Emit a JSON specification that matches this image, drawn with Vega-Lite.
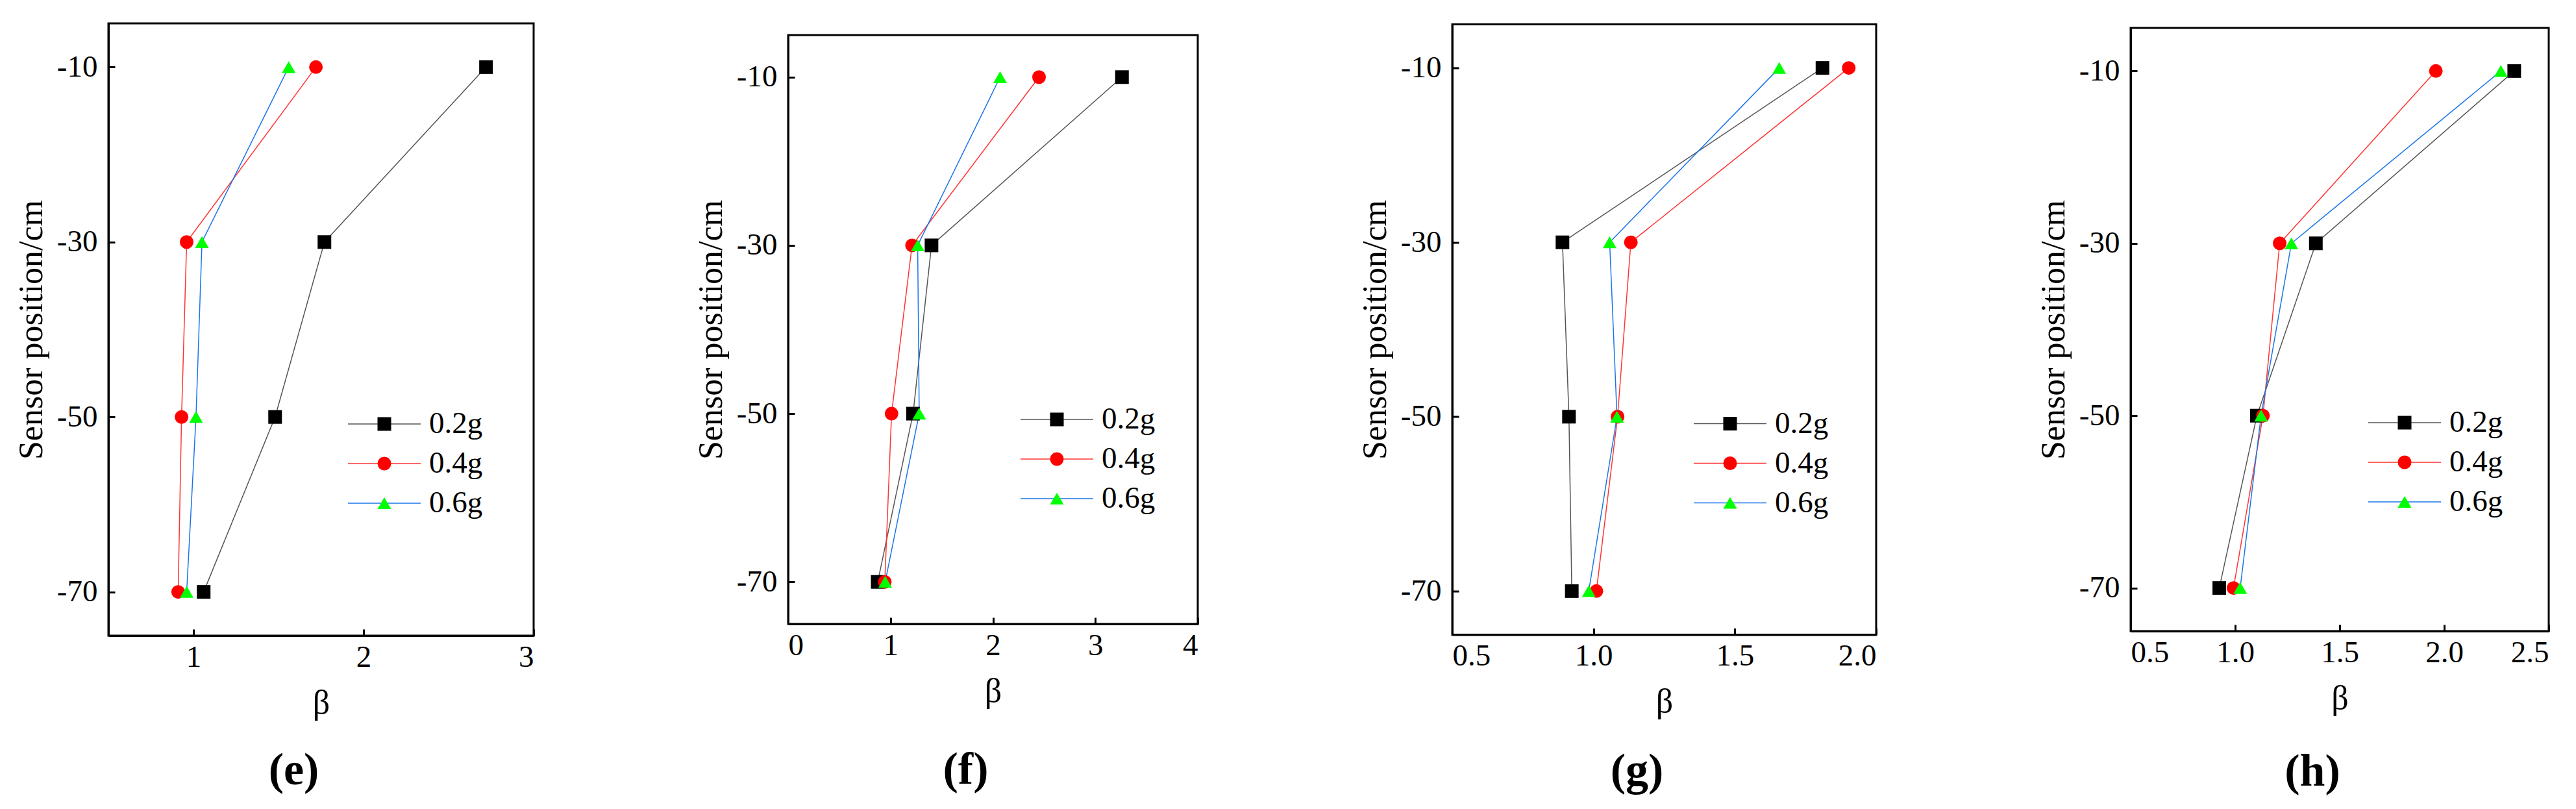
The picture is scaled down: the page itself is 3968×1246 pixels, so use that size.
{
  "$schema": "https://vega.github.io/schema/vega-lite/v6.json",
  "background": "white",
  "padding": {"left": 20, "top": 34, "right": 10, "bottom": 5},
  "bounds": "flush",
  "center": true,
  "spacing": 392,
  "config": {
    "font": "Liberation Serif",
    "view": {"stroke": "black", "strokeWidth": 3},
    "axis": {
      "grid": false,
      "domainColor": "black",
      "domainWidth": 3,
      "tickColor": "black",
      "tickWidth": 3,
      "tickSize": -10,
      "labelFont": "Liberation Serif",
      "labelFontSize": 47,
      "labelColor": "black",
      "titleFont": "Liberation Serif",
      "titleFontSize": 52,
      "titleFontWeight": "normal",
      "titleColor": "black"
    },
    "axisX": {"labelPadding": 20, "titlePadding": 22},
    "axisY": {"labelPadding": 27, "titlePadding": 12},
    "legend": {
      "orient": "none",
      "title": null,
      "padding": 0,
      "labelFont": "Liberation Serif",
      "labelFontSize": 47,
      "labelColor": "black",
      "clipHeight": 47,
      "rowPadding": 13
    },
    "title": {
      "orient": "bottom",
      "font": "Liberation Serif",
      "fontSize": 70,
      "fontWeight": "bold",
      "color": "black",
      "dx": -42
    }
  },
  "resolve": {
    "scale": {"stroke": "independent", "fill": "independent", "shape": "independent"},
    "legend": {"stroke": "independent", "fill": "independent", "shape": "independent"}
  },
  "hconcat": [
    {
      "width": 655,
      "height": 943,
      "title": {"text": "(e)", "offset": 45},
      "data": {"values": [
        {"load": "0.2g", "pos": -10, "beta": 2.72},
        {"load": "0.2g", "pos": -30, "beta": 1.77},
        {"load": "0.2g", "pos": -50, "beta": 1.48},
        {"load": "0.2g", "pos": -70, "beta": 1.06},
        {"load": "0.4g", "pos": -10, "beta": 1.72},
        {"load": "0.4g", "pos": -30, "beta": 0.96},
        {"load": "0.4g", "pos": -50, "beta": 0.93},
        {"load": "0.4g", "pos": -70, "beta": 0.91},
        {"load": "0.6g", "pos": -10, "beta": 1.56},
        {"load": "0.6g", "pos": -30, "beta": 1.05},
        {"load": "0.6g", "pos": -50, "beta": 1.015},
        {"load": "0.6g", "pos": -70, "beta": 0.96}
      ]},
      "encoding": {
        "x": {"field": "beta", "type": "quantitative", "title": "β",
              "scale": {"domain": [0.5, 3], "nice": false, "zero": false},
              "axis": {"values": [1, 2, 3], "format": "d"}},
        "y": {"field": "pos", "type": "quantitative", "title": "Sensor position/cm",
              "scale": {"domain": [-75, -5], "nice": false, "zero": false},
              "axis": {"values": [-10, -30, -50, -70], "labelExpr": "'' + datum.value"}}
      },
      "layer": [
        {
          "mark": {"type": "line", "strokeWidth": 1.5},
          "encoding": {
            "order": {"field": "pos", "type": "quantitative"},
            "stroke": {"field": "load", "type": "nominal",
                       "scale": {"domain": ["0.2g", "0.4g", "0.6g"], "range": ["#555555", "#ff3333", "#1a75e8"]},
                       "legend": {"legendX": 368, "legendY": 593.5, "symbolType": "stroke", "symbolSize": 12544, "symbolStrokeWidth": 1.5, "labelOffset": 12, "zindex": 1}}
          }
        },
        {
          "mark": {"type": "point", "filled": true, "opacity": 1, "size": 441},
          "encoding": {
            "fill": {"field": "load", "type": "nominal",
                     "scale": {"range": ["#000000", "#ff0000", "#00ff00"]},
                     "legend": {"legendX": 401.5, "legendY": 593.5, "symbolSize": 441, "symbolStrokeWidth": 0, "labelExpr": "''", "zindex": 2}},
            "shape": {"field": "load", "type": "nominal",
                      "scale": {"range": ["square", "circle", "triangle-up"]}}
          }
        }
      ]
    },
    {
      "width": 631,
      "height": 907,
      "title": {"text": "(f)", "offset": 62},
      "data": {"values": [
        {"load": "0.2g", "pos": -10, "beta": 3.26},
        {"load": "0.2g", "pos": -30, "beta": 1.40},
        {"load": "0.2g", "pos": -50, "beta": 1.22},
        {"load": "0.2g", "pos": -70, "beta": 0.875},
        {"load": "0.4g", "pos": -10, "beta": 2.45},
        {"load": "0.4g", "pos": -30, "beta": 1.21},
        {"load": "0.4g", "pos": -50, "beta": 1.01},
        {"load": "0.4g", "pos": -70, "beta": 0.944},
        {"load": "0.6g", "pos": -10, "beta": 2.07},
        {"load": "0.6g", "pos": -30, "beta": 1.265},
        {"load": "0.6g", "pos": -50, "beta": 1.28},
        {"load": "0.6g", "pos": -70, "beta": 0.948}
      ]},
      "encoding": {
        "x": {"field": "beta", "type": "quantitative", "title": "β",
              "scale": {"domain": [0, 4], "nice": false, "zero": false},
              "axis": {"values": [0, 1, 2, 3, 4], "format": "d"}},
        "y": {"field": "pos", "type": "quantitative", "title": "Sensor position/cm",
              "scale": {"domain": [-75, -5], "nice": false, "zero": false},
              "axis": {"values": [-10, -30, -50, -70], "labelExpr": "'' + datum.value"}}
      },
      "layer": [
        {
          "mark": {"type": "line", "strokeWidth": 1.5},
          "encoding": {
            "order": {"field": "pos", "type": "quantitative"},
            "stroke": {"field": "load", "type": "nominal",
                       "scale": {"domain": ["0.2g", "0.4g", "0.6g"], "range": ["#555555", "#ff3333", "#1a75e8"]},
                       "legend": {"legendX": 357, "legendY": 568.5, "symbolType": "stroke", "symbolSize": 12544, "symbolStrokeWidth": 1.5, "labelOffset": 12, "zindex": 1}}
          }
        },
        {
          "mark": {"type": "point", "filled": true, "opacity": 1, "size": 441},
          "encoding": {
            "fill": {"field": "load", "type": "nominal",
                     "scale": {"range": ["#000000", "#ff0000", "#00ff00"]},
                     "legend": {"legendX": 390.5, "legendY": 568.5, "symbolSize": 441, "symbolStrokeWidth": 0, "labelExpr": "''", "zindex": 2}},
            "shape": {"field": "load", "type": "nominal",
                      "scale": {"range": ["square", "circle", "triangle-up"]}}
          }
        }
      ]
    },
    {
      "width": 653,
      "height": 940,
      "title": {"text": "(g)", "offset": 47},
      "data": {"values": [
        {"load": "0.2g", "pos": -10, "beta": 1.81},
        {"load": "0.2g", "pos": -30, "beta": 0.89},
        {"load": "0.2g", "pos": -50, "beta": 0.913},
        {"load": "0.2g", "pos": -70, "beta": 0.923},
        {"load": "0.4g", "pos": -10, "beta": 1.903},
        {"load": "0.4g", "pos": -30, "beta": 1.132},
        {"load": "0.4g", "pos": -50, "beta": 1.085},
        {"load": "0.4g", "pos": -70, "beta": 1.01},
        {"load": "0.6g", "pos": -10, "beta": 1.657},
        {"load": "0.6g", "pos": -30, "beta": 1.057},
        {"load": "0.6g", "pos": -50, "beta": 1.083},
        {"load": "0.6g", "pos": -70, "beta": 0.983}
      ]},
      "encoding": {
        "x": {"field": "beta", "type": "quantitative", "title": "β",
              "scale": {"domain": [0.5, 2.0], "nice": false, "zero": false},
              "axis": {"values": [0.5, 1.0, 1.5, 2.0], "format": ".1f"}},
        "y": {"field": "pos", "type": "quantitative", "title": "Sensor position/cm",
              "scale": {"domain": [-75, -5], "nice": false, "zero": false},
              "axis": {"values": [-10, -30, -50, -70], "labelExpr": "'' + datum.value"}}
      },
      "layer": [
        {
          "mark": {"type": "line", "strokeWidth": 1.5},
          "encoding": {
            "order": {"field": "pos", "type": "quantitative"},
            "stroke": {"field": "load", "type": "nominal",
                       "scale": {"domain": ["0.2g", "0.4g", "0.6g"], "range": ["#555555", "#ff3333", "#1a75e8"]},
                       "legend": {"legendX": 371, "legendY": 591.5, "symbolType": "stroke", "symbolSize": 12544, "symbolStrokeWidth": 1.5, "labelOffset": 12, "zindex": 1}}
          }
        },
        {
          "mark": {"type": "point", "filled": true, "opacity": 1, "size": 441},
          "encoding": {
            "fill": {"field": "load", "type": "nominal",
                     "scale": {"range": ["#000000", "#ff0000", "#00ff00"]},
                     "legend": {"legendX": 404.5, "legendY": 591.5, "symbolSize": 441, "symbolStrokeWidth": 0, "labelExpr": "''", "zindex": 2}},
            "shape": {"field": "load", "type": "nominal",
                      "scale": {"range": ["square", "circle", "triangle-up"]}}
          }
        }
      ]
    },
    {
      "width": 644,
      "height": 929,
      "title": {"text": "(h)", "offset": 54},
      "data": {"values": [
        {"load": "0.2g", "pos": -10, "beta": 2.335},
        {"load": "0.2g", "pos": -30, "beta": 1.386},
        {"load": "0.2g", "pos": -50, "beta": 1.104},
        {"load": "0.2g", "pos": -70, "beta": 0.924},
        {"load": "0.4g", "pos": -10, "beta": 1.96},
        {"load": "0.4g", "pos": -30, "beta": 1.213},
        {"load": "0.4g", "pos": -50, "beta": 1.133},
        {"load": "0.4g", "pos": -70, "beta": 0.992},
        {"load": "0.6g", "pos": -10, "beta": 2.271},
        {"load": "0.6g", "pos": -30, "beta": 1.269},
        {"load": "0.6g", "pos": -50, "beta": 1.124},
        {"load": "0.6g", "pos": -70, "beta": 1.024}
      ]},
      "encoding": {
        "x": {"field": "beta", "type": "quantitative", "title": "β",
              "scale": {"domain": [0.5, 2.5], "nice": false, "zero": false},
              "axis": {"values": [0.5, 1.0, 1.5, 2.0, 2.5], "format": ".1f"}},
        "y": {"field": "pos", "type": "quantitative", "title": "Sensor position/cm",
              "scale": {"domain": [-75, -5], "nice": false, "zero": false},
              "axis": {"values": [-10, -30, -50, -70], "labelExpr": "'' + datum.value"}}
      },
      "layer": [
        {
          "mark": {"type": "line", "strokeWidth": 1.5},
          "encoding": {
            "order": {"field": "pos", "type": "quantitative"},
            "stroke": {"field": "load", "type": "nominal",
                       "scale": {"domain": ["0.2g", "0.4g", "0.6g"], "range": ["#555555", "#ff3333", "#1a75e8"]},
                       "legend": {"legendX": 365, "legendY": 584.5, "symbolType": "stroke", "symbolSize": 12544, "symbolStrokeWidth": 1.5, "labelOffset": 12, "zindex": 1}}
          }
        },
        {
          "mark": {"type": "point", "filled": true, "opacity": 1, "size": 441},
          "encoding": {
            "fill": {"field": "load", "type": "nominal",
                     "scale": {"range": ["#000000", "#ff0000", "#00ff00"]},
                     "legend": {"legendX": 398.5, "legendY": 584.5, "symbolSize": 441, "symbolStrokeWidth": 0, "labelExpr": "''", "zindex": 2}},
            "shape": {"field": "load", "type": "nominal",
                      "scale": {"range": ["square", "circle", "triangle-up"]}}
          }
        }
      ]
    }
  ]
}
